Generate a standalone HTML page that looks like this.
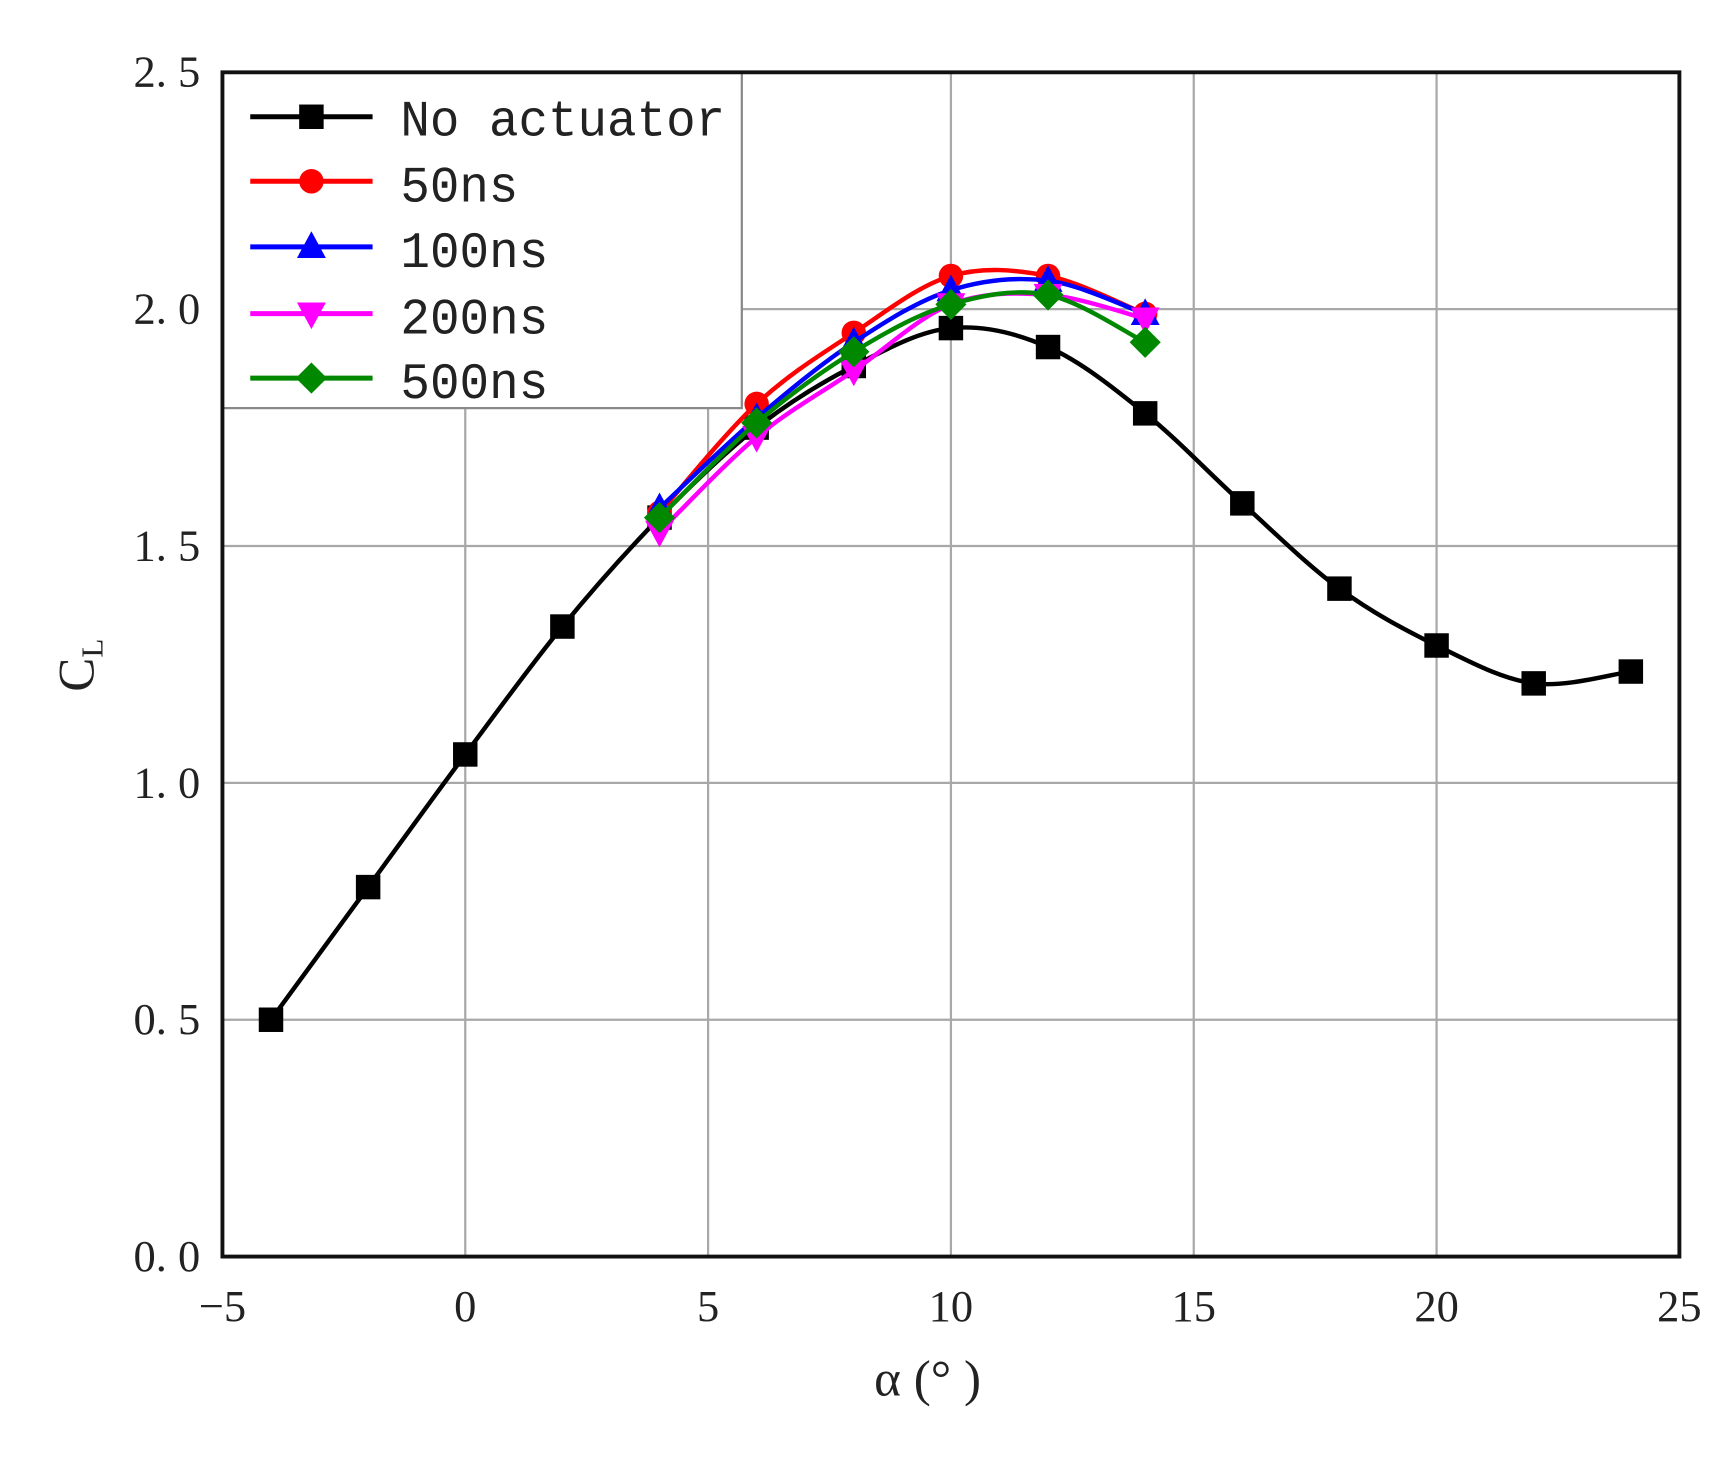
<!DOCTYPE html>
<html><head><meta charset="utf-8">
<style>html,body{margin:0;padding:0;background:#fff;width:1735px;height:1459px;overflow:hidden}</style>
</head><body>
<svg id="s" width="1735" height="1459" viewBox="0 0 1560 1312" preserveAspectRatio="none" xmlns="http://www.w3.org/2000/svg">
<rect width="1560" height="1312" fill="#fff"/>
<g id="grid" stroke="#a8a8a8" stroke-width="2"></g>
<rect x="200" y="65" width="467" height="302" fill="#fff" stroke="#888" stroke-width="2"/>
<path d="M200 65 H1510 V1130 H200 Z" fill="none" stroke="#111" stroke-width="3.5"/>
<g id="series"></g>
<g id="labels" font-family="Liberation Serif, serif" font-size="40" fill="#222"></g>
<g font-family="Liberation Mono, monospace" font-size="46" fill="#222">
<text x="360" y="122" textLength="292" lengthAdjust="spacingAndGlyphs">No actuator</text>
<text x="360" y="181" textLength="106" lengthAdjust="spacingAndGlyphs">50ns</text>
<text x="360" y="240" textLength="133" lengthAdjust="spacingAndGlyphs">100ns</text>
<text x="360" y="300" textLength="133" lengthAdjust="spacingAndGlyphs">200ns</text>
<text x="360" y="358" textLength="133" lengthAdjust="spacingAndGlyphs">500ns</text>
</g>
<text x="786" y="1255" font-family="Liberation Serif, serif" font-size="46" fill="#222">α (°  )</text>
<text transform="translate(84,622) rotate(-90)" font-family="Liberation Serif, serif" font-size="46" fill="#222">C<tspan font-size="28" dy="8">L</tspan></text>
</svg>
<script>
const NS="http://www.w3.org/2000/svg";
const X=a=>200+(a+5)*43.667, Y=v=>1130-v*426;
const g=document.getElementById('grid'), lab=document.getElementById('labels'), ser=document.getElementById('series');
function el(p,t,a){const e=document.createElementNS(NS,t);for(const k in a)e.setAttribute(k,a[k]);p.appendChild(e);return e;}
for(let a=0;a<=20;a+=5){const x=X(a);el(g,'line',{x1:x,x2:x,y1:65,y2:1130});}
for(let v=0.5;v<2.5;v+=0.5){el(g,'line',{x1:200,x2:1510,y1:Y(v),y2:Y(v)});}
for(let a=-5;a<=25;a+=5){const t=el(lab,'text',{x:X(a),y:1188,'text-anchor':'middle'});t.textContent=a<0?'−5':a;}
for(let i=0;i<=5;i++){const v=i*0.5;const t=el(lab,'text',{x:180,y:Y(v)+13,'text-anchor':'end'});t.textContent=v.toFixed(1).replace('.','. ');}
const A=[4,6,8,10,12,14];
const S=[
 {c:'#000',m:'sq',x:[-4,-2,0,2,4,6,8,10,12,14,16,18,20,22,24],y:[0.5,0.78,1.06,1.33,1.56,1.75,1.88,1.96,1.92,1.78,1.59,1.41,1.29,1.21,1.235]},
 {c:'#f00',m:'ci',x:A,y:[1.57,1.80,1.95,2.07,2.07,1.99]},
 {c:'#00f',m:'tu',x:A,y:[1.58,1.77,1.93,2.04,2.06,1.99]},
 {c:'#f0f',m:'td',x:A,y:[1.53,1.73,1.87,2.01,2.03,1.98]},
 {c:'#080',m:'di',x:A,y:[1.56,1.76,1.91,2.01,2.03,1.93]}];
function marker(p,m,x,y,c){
 if(m=='sq')el(p,'rect',{x:x-11,y:y-11,width:22,height:22,fill:c});
 if(m=='ci')el(p,'circle',{cx:x,cy:y,r:11,fill:c});
 if(m=='tu')el(p,'polygon',{points:`${x},${y-14} ${x+13},${y+10} ${x-13},${y+10}`,fill:c});
 if(m=='td')el(p,'polygon',{points:`${x},${y+14} ${x+13},${y-10} ${x-13},${y-10}`,fill:c});
 if(m=='di')el(p,'polygon',{points:`${x},${y-14} ${x+14},${y} ${x},${y+14} ${x-14},${y}`,fill:c});
}
S.forEach((s,k)=>{
 const P=s.x.map((a,i)=>[X(a),Y(s.y[i])]);
 let d=`M${P[0][0]},${P[0][1]}`;
 for(let i=0;i<P.length-1;i++){const p0=P[i-1]||P[i],p1=P[i],p2=P[i+1],p3=P[i+2]||p2;
  d+=` C${p1[0]+(p2[0]-p0[0])/6},${p1[1]+(p2[1]-p0[1])/6} ${p2[0]-(p3[0]-p1[0])/6},${p2[1]-(p3[1]-p1[1])/6} ${p2[0]},${p2[1]}`;}
 el(ser,'path',{d:d,fill:'none',stroke:s.c,'stroke-width':4});
 P.forEach(p=>marker(ser,s.m,p[0],p[1],s.c));
 const ly=[105,163,222,282,340][k];
 el(ser,'line',{x1:225,x2:335,y1:ly,y2:ly,stroke:s.c,'stroke-width':4.5});
 marker(ser,s.m,280,ly,s.c);
});
</script>
</body></html>
